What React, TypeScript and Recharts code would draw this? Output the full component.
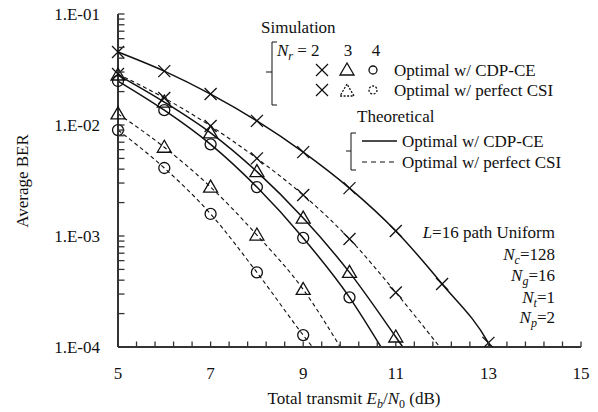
import React from "react";
import { LineChart, Line, XAxis, YAxis } from "recharts";

// simulated points (markers)
const sim2Cdp = [
  { x: 5, ber: 0.0455 }, { x: 6, ber: 0.0306 }, { x: 7, ber: 0.019 }, { x: 8, ber: 0.0109 },
  { x: 9, ber: 0.0057 }, { x: 10, ber: 0.0027 }, { x: 11, ber: 0.00111 }, { x: 12, ber: 0.00037 },
  { x: 13, ber: 0.000109 },
];
const sim2Csi = [
  { x: 5, ber: 0.0288 }, { x: 6, ber: 0.0175 }, { x: 7, ber: 0.0098 }, { x: 8, ber: 0.005 },
  { x: 9, ber: 0.00234 }, { x: 10, ber: 0.00094 }, { x: 11, ber: 0.00031 },
];
const sim3Cdp = [
  { x: 5, ber: 0.0282 }, { x: 6, ber: 0.0161 }, { x: 7, ber: 0.0085 }, { x: 8, ber: 0.0038 },
  { x: 9, ber: 0.00145 }, { x: 10, ber: 0.00047 }, { x: 11, ber: 0.000123 },
];
const sim3Csi = [
  { x: 5, ber: 0.0126 }, { x: 6, ber: 0.0063 }, { x: 7, ber: 0.00276 }, { x: 8, ber: 0.00102 },
  { x: 9, ber: 0.00033 },
];
const sim4Cdp = [
  { x: 5, ber: 0.0249 }, { x: 6, ber: 0.0136 }, { x: 7, ber: 0.0067 }, { x: 8, ber: 0.00276 },
  { x: 9, ber: 0.00096 }, { x: 10, ber: 0.00028 },
];
const sim4Csi = [
  { x: 5, ber: 0.009 }, { x: 6, ber: 0.0041 }, { x: 7, ber: 0.00158 }, { x: 8, ber: 0.00047 },
  { x: 9, ber: 0.000128 },
];

// theoretical curves (incl. where they leave the plot at 1e-4)
const th2Cdp = [...sim2Cdp, { x: 13.05, ber: 0.0001 }];
const th2Csi = [...sim2Csi, { x: 11.95, ber: 0.0001 }];
const th3Cdp = [...sim3Cdp, { x: 11.15, ber: 0.0001 }];
const th3Csi = [...sim3Csi, { x: 9.8, ber: 0.0001 }];
const th4Cdp = [...sim4Cdp, { x: 10.68, ber: 0.0001 }];
const th4Csi = [...sim4Csi, { x: 9.2, ber: 0.0001 }];

const xMajor = [5, 7, 9, 11, 13, 15];
const xAllTicks = [
  5, 5.4, 5.8, 6.2, 6.6, 7, 7.4, 7.8, 8.2, 8.6, 9, 9.4, 9.8, 10.2, 10.6, 11,
  11.4, 11.8, 12.2, 12.6, 13, 13.4, 13.8, 14.2, 14.6, 15,
];
const yLabels: Record<string, string> = {
  "0.0001": "1.E-04", "0.001": "1.E-03", "0.01": "1.E-02", "0.1": "1.E-01",
};
const yAllTicks = [
  0.0001, 0.0002, 0.0003, 0.0004, 0.0005, 0.0006, 0.0007, 0.0008, 0.0009,
  0.001, 0.002, 0.003, 0.004, 0.005, 0.006, 0.007, 0.008, 0.009,
  0.01, 0.02, 0.03, 0.04, 0.05, 0.06, 0.07, 0.08, 0.09, 0.1,
];

const FONT = '"Liberation Serif", "Times New Roman", serif';
const INK = "#111";
const AXIS = "#333";
const X_GAP = 20; // axis line -> label
const Y_GAP = 18;

function Cross({ cx, cy, dash }: any) {
  const s = 6;
  return (
    <g stroke={INK} strokeWidth={1.3} strokeDasharray={dash}>
      <line x1={cx - s} y1={cy - s} x2={cx + s} y2={cy + s} />
      <line x1={cx - s} y1={cy + s} x2={cx + s} y2={cy - s} />
    </g>
  );
}

function Tri({ cx, cy, dash }: any) {
  return (
    <polygon
      points={`${cx},${cy - 7} ${cx - 7},${cy + 5} ${cx + 7},${cy + 5}`}
      fill="none"
      stroke={INK}
      strokeWidth={1.3}
      strokeDasharray={dash}
    />
  );
}

function Circ({ cx, cy, dash, r = 5.5 }: any) {
  return <circle cx={cx} cy={cy} r={r} fill="none" stroke={INK} strokeWidth={1.3} strokeDasharray={dash} />;
}

const dotOf = (Shape: any) => (p: any) => <Shape key={`d${p.index}`} cx={p.cx} cy={p.cy} />;

// x ticks: inward tick mark for every tick, label on the major ones
function XTick({ x, y, payload }: any) {
  const v = payload.value;
  const major = xMajor.includes(v);
  const axisY = y - X_GAP;
  return (
    <g>
      <line x1={x} y1={axisY} x2={x} y2={axisY - 5.5} stroke={AXIS} strokeWidth={1.3} />
      {major && (
        <text x={x} y={y} dy="0.71em" textAnchor="middle" fontFamily={FONT} fontSize={17} fill={INK}>
          {v}
        </text>
      )}
    </g>
  );
}

function YTick({ x, y, payload }: any) {
  const label = yLabels[String(payload.value)];
  const axisX = x + Y_GAP;
  return (
    <g>
      <line x1={axisX} y1={y} x2={axisX + 6.5} y2={y} stroke={AXIS} strokeWidth={1.3} />
      {label && (
        <text x={x} y={y} dy="0.355em" textAnchor="end" fontFamily={FONT} fontSize={17} fill={INK}>
          {label}
        </text>
      )}
    </g>
  );
}

function Overlay() {
  const t = { fontFamily: FONT, fontSize: 17, fill: INK } as const;
  return (
    <svg
      width={598}
      height={412}
      style={{ position: "absolute", left: 0, top: 0, pointerEvents: "none" }}
    >
      {/* axis titles */}
      <text {...t} x={22} y={181} textAnchor="middle" transform="rotate(-90 22 181)" dominantBaseline="central">
        Average BER
      </text>
      <text {...t} x={354} y={404} textAnchor="middle">
        Total transmit <tspan fontStyle="italic">E</tspan>
        <tspan fontStyle="italic" fontSize={12} dy={4}>b</tspan>
        <tspan dy={-4}>/</tspan>
        <tspan fontStyle="italic">N</tspan>
        <tspan fontSize={12} dy={4}>0</tspan>
        <tspan dy={-4}> (dB)</tspan>
      </text>

      {/* simulation legend */}
      <text {...t} x={261} y={33}>Simulation</text>
      <path d="M277 42 H272 V105 H277 M272 72 H266" fill="none" stroke={INK} strokeWidth={1} />
      <text {...t} x={277} y={56}>
        <tspan fontStyle="italic">N</tspan>
        <tspan fontStyle="italic" fontSize={12} dy={4}>r</tspan>
        <tspan dy={-4}> = 2</tspan>
      </text>
      <text {...t} x={348} y={56} textAnchor="middle">3</text>
      <text {...t} x={376} y={56} textAnchor="middle">4</text>
      <Cross cx={322} cy={70} />
      <Tri cx={347} cy={70} />
      <Circ cx={373} cy={70} r={4} />
      <text {...t} x={394} y={76}>Optimal w/ CDP-CE</text>
      <Cross cx={322} cy={90} />
      <Tri cx={347} cy={91} dash="2 1.5" />
      <Circ cx={373} cy={90} r={4} dash="2 1.5" />
      <text {...t} x={394} y={96}>Optimal w/ perfect CSI</text>

      {/* theoretical legend */}
      <text {...t} x={357} y={122}>Theoretical</text>
      <path d="M356 133 H351 V170 H356 M351 151 H346" fill="none" stroke={INK} strokeWidth={1} />
      <line x1={362} y1={141} x2={397} y2={141} stroke={INK} strokeWidth={1.5} />
      <text {...t} x={402} y={147}>Optimal w/ CDP-CE</text>
      <line x1={362} y1={162} x2={397} y2={162} stroke={INK} strokeWidth={1.2} strokeDasharray="5 4" />
      <text {...t} x={402} y={168}>Optimal w/ perfect CSI</text>

      {/* parameters */}
      <text {...t} x={555} y={238} textAnchor="end">
        <tspan fontStyle="italic">L</tspan>=16 path Uniform
      </text>
      <text {...t} x={555} y={260} textAnchor="end">
        <tspan fontStyle="italic">N</tspan>
        <tspan fontStyle="italic" fontSize={12} dy={4}>c</tspan>
        <tspan dy={-4}>=128</tspan>
      </text>
      <text {...t} x={555} y={281} textAnchor="end">
        <tspan fontStyle="italic">N</tspan>
        <tspan fontStyle="italic" fontSize={12} dy={4}>g</tspan>
        <tspan dy={-4}>=16</tspan>
      </text>
      <text {...t} x={555} y={303} textAnchor="end">
        <tspan fontStyle="italic">N</tspan>
        <tspan fontStyle="italic" fontSize={12} dy={4}>t</tspan>
        <tspan dy={-4}>=1</tspan>
      </text>
      <text {...t} x={555} y={323} textAnchor="end">
        <tspan fontStyle="italic">N</tspan>
        <tspan fontStyle="italic" fontSize={12} dy={4}>p</tspan>
        <tspan dy={-4}>=2</tspan>
      </text>
    </svg>
  );
}

export default function App() {
  const solid = { stroke: INK, strokeWidth: 1.5 };
  const dashed = { stroke: INK, strokeWidth: 1.1, strokeDasharray: "4 3" };
  return (
    <div style={{ position: "absolute", left: 0, top: 0, width: 598, height: 412, background: "#fff" }}>
      <LineChart width={598} height={412} margin={{ top: 14, right: 17, left: 0, bottom: 0 }}>
        <XAxis
          xAxisId="main"
          dataKey="x"
          type="number"
          domain={[5, 15]}
          ticks={xAllTicks}
          interval={0}
          height={65}
          tickSize={0}
          tickMargin={X_GAP}
          tick={XTick}
          axisLine={{ stroke: AXIS, strokeWidth: 2 }}
          tickLine={false}
        />
        <XAxis
          xAxisId="top"
          orientation="top"
          dataKey="x"
          type="number"
          domain={[5, 15]}
          height={0}
          tick={false}
          tickLine={false}
          axisLine={{ stroke: AXIS, strokeWidth: 2 }}
        />
        <YAxis
          yAxisId="main"
          dataKey="ber"
          type="number"
          scale="log"
          domain={[0.0001, 0.1]}
          allowDataOverflow
          ticks={yAllTicks}
          interval={0}
          width={118}
          tickSize={0}
          tickMargin={Y_GAP}
          tick={YTick}
          axisLine={{ stroke: AXIS, strokeWidth: 2 }}
          tickLine={false}
        />
        <YAxis
          yAxisId="right"
          orientation="right"
          dataKey="ber"
          type="number"
          scale="log"
          domain={[0.0001, 0.1]}
          allowDataOverflow
          width={0}
          tick={false}
          tickLine={false}
          axisLine={{ stroke: AXIS, strokeWidth: 2 }}
        />

        <Line xAxisId="main" yAxisId="main" data={th2Cdp} dataKey="ber" type="monotone" dot={false} isAnimationActive={false} {...solid} />
        <Line xAxisId="main" yAxisId="main" data={th3Cdp} dataKey="ber" type="monotone" dot={false} isAnimationActive={false} {...solid} />
        <Line xAxisId="main" yAxisId="main" data={th4Cdp} dataKey="ber" type="monotone" dot={false} isAnimationActive={false} {...solid} />
        <Line xAxisId="main" yAxisId="main" data={th2Csi} dataKey="ber" type="monotone" dot={false} isAnimationActive={false} {...dashed} />
        <Line xAxisId="main" yAxisId="main" data={th3Csi} dataKey="ber" type="monotone" dot={false} isAnimationActive={false} {...dashed} />
        <Line xAxisId="main" yAxisId="main" data={th4Csi} dataKey="ber" type="monotone" dot={false} isAnimationActive={false} {...dashed} />

        <Line xAxisId="main" yAxisId="main" data={sim2Cdp} dataKey="ber" stroke="none" dot={dotOf(Cross)} isAnimationActive={false} />
        <Line xAxisId="main" yAxisId="main" data={sim2Csi} dataKey="ber" stroke="none" dot={dotOf(Cross)} isAnimationActive={false} />
        <Line xAxisId="main" yAxisId="main" data={sim3Cdp} dataKey="ber" stroke="none" dot={dotOf(Tri)} isAnimationActive={false} />
        <Line xAxisId="main" yAxisId="main" data={sim3Csi} dataKey="ber" stroke="none" dot={dotOf(Tri)} isAnimationActive={false} />
        <Line xAxisId="main" yAxisId="main" data={sim4Cdp} dataKey="ber" stroke="none" dot={dotOf(Circ)} isAnimationActive={false} />
        <Line xAxisId="main" yAxisId="main" data={sim4Csi} dataKey="ber" stroke="none" dot={dotOf(Circ)} isAnimationActive={false} />
      </LineChart>
      <Overlay />
    </div>
  );
}
